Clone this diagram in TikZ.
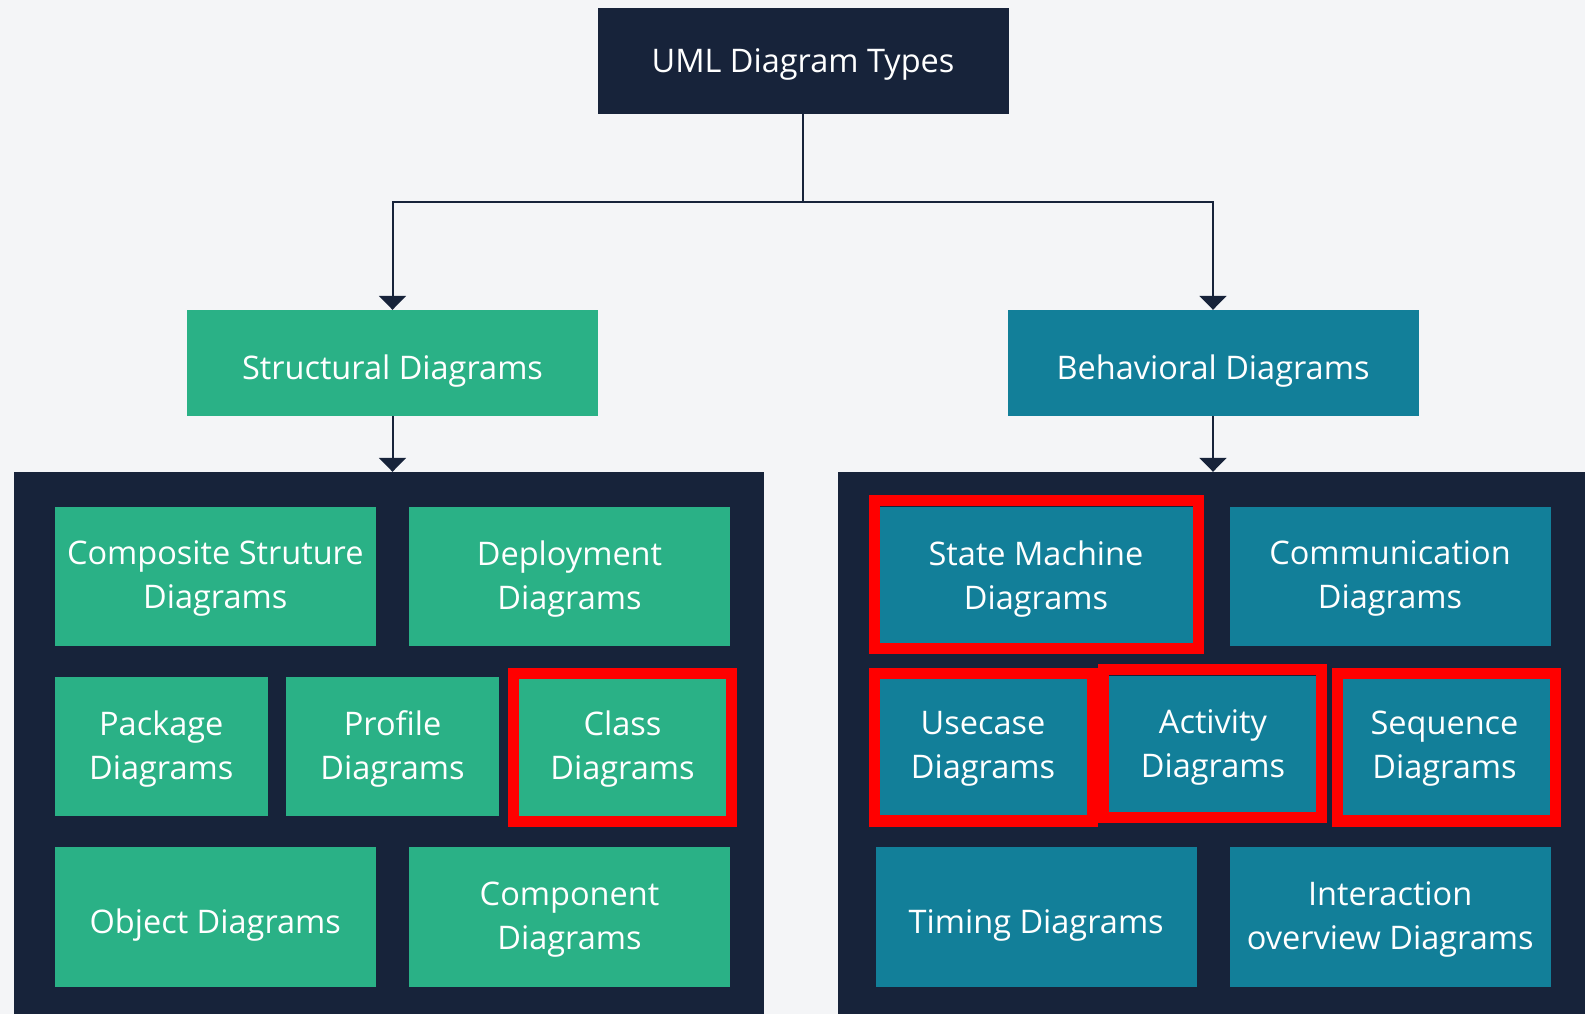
\documentclass[tikz,border=0pt]{standalone}
\usepackage{fontspec}
\setmainfont{Open Sans}
\usetikzlibrary{arrows.meta}
\definecolor{bgc}{HTML}{F4F5F7}
\definecolor{navy}{HTML}{17233A}
\definecolor{grn}{HTML}{2AB186}
\definecolor{tealc}{HTML}{127F99}
\definecolor{redc}{HTML}{FF0000}
\tikzset{
  box/.style={rectangle, inner sep=0pt, align=center, text=white, text depth=3pt, font=\fontsize{32.5}{44}\selectfont},
  oneline/.style={text depth=0pt, text height=33pt},
  topbox/.style={box, fill=navy, text depth=0pt, minimum width=411pt, minimum height=106pt},
  greenbox/.style={box, fill=grn},
  tealbox/.style={box, fill=tealc},
  wide/.style={minimum width=321pt, minimum height=139pt},
  narrow/.style={minimum width=213pt, minimum height=139pt},
  mid/.style={minimum width=411pt, minimum height=106pt},
  panel/.style={rectangle, fill=navy, inner sep=0pt},
  conn/.style={draw=navy, line width=2pt, -{Triangle[width=27pt,length=14pt]}},
  line/.style={draw=navy, line width=2pt},
  redframe/.style={draw=redc, line width=11.5pt}
}
\begin{document}
\begin{tikzpicture}[x=1pt,y=-1pt]
\fill[bgc] (0,0) rectangle (1585,1014);
\useasboundingbox (0,0) rectangle (1585,1014);

\node[topbox] (top) at (803,61) {UML Diagram Types};
\node[greenbox, mid, oneline] (struct) at (392.5,363) {Structural Diagrams};
\node[tealbox, mid, oneline] (behav) at (1213,363) {Behavioral Diagrams};

\node[panel, minimum width=750pt, minimum height=548pt] (panelL) at (389,746) {};
\node[panel, minimum width=750pt, minimum height=548pt] (panelR) at (1213,746) {};

% structural
\node[greenbox, wide] (comp) at (215.3,576.5) {Composite Struture\\Diagrams};
\node[greenbox, wide] (depl) at (569.5,576.5) {Deployment\\Diagrams};
\node[greenbox, narrow] (pack) at (161.3,746.5) {Package\\Diagrams};
\node[greenbox, narrow] (prof) at (392.6,746.5) {Profile\\Diagrams};
\node[greenbox, narrow] (class) at (622.5,746.5) {Class\\Diagrams};
\node[greenbox, wide, minimum height=140pt, oneline] (obj) at (215.3,917) {Object Diagrams};
\node[greenbox, wide, minimum height=140pt] (compo) at (569.5,917) {Component\\Diagrams};

% behavioral
\node[tealbox, wide] (state) at (1036,576.5) {State Machine\\Diagrams};
\node[tealbox, wide] (comm) at (1390,576.5) {Communication\\Diagrams};
\node[tealbox, narrow] (usec) at (983,746.5) {Usecase\\Diagrams};
\node[tealbox, narrow] (act) at (1213,745.5) {Activity\\Diagrams};
\node[tealbox, narrow] (seq) at (1444.5,746.5) {Sequence\\Diagrams};
\node[tealbox, wide, minimum height=140pt, oneline] (timing) at (1036.2,917) {Timing Diagrams};
\node[tealbox, wide, minimum height=140pt] (inter) at (1390.2,917) {Interaction\\overview Diagrams};

% red highlight frames
\draw[redframe] (513.5,673.5) rectangle (731.5,821.5);
\draw[redframe] (874.5,500.7) rectangle (1198.7,648.3);
\draw[redframe] (874.3,673.4) rectangle (1092.3,821);
\draw[redframe] (1103.7,669.7) rectangle (1321.3,817.6);
\draw[redframe] (1337.3,673.4) rectangle (1555.3,821);

% connectors
\coordinate (split) at (803,202);
\draw[line] (top.south) -- (split);
\draw[conn] (split) -| (struct.north);
\draw[conn] (split) -| (behav.north);
\draw[conn] (struct.south) -- (struct.south |- panelL.north);
\draw[conn] (behav.south) -- (behav.south |- panelR.north);
\end{tikzpicture}
\end{document}
